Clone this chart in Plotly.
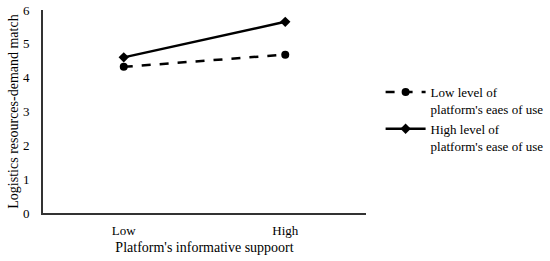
import plotly.graph_objects as go

categories = ["Low", "High"]
low_ease = [4.32, 4.68]
high_ease = [4.6, 5.65]
names = ["Low level of<br>platform's eaes of use", "High level of<br>platform's ease of use"]
y_ticks = [0, 1, 2, 3, 4, 5, 6]

font_family = "Liberation Serif, Times New Roman, serif"

fig = go.Figure()
fig.add_trace(
    go.Scatter(
        x=categories,
        y=low_ease,
        name=names[0],
        mode="lines+markers",
        line=dict(color="black", width=2.5, dash="dash"),
        marker=dict(symbol="circle", size=8, color="black"),
    )
)
fig.add_trace(
    go.Scatter(
        x=categories,
        y=high_ease,
        name=names[1],
        mode="lines+markers",
        line=dict(color="black", width=2.5),
        marker=dict(symbol="diamond", size=8, color="black"),
    )
)

fig.update_layout(
    width=550,
    height=261,
    template="plotly_white",
    paper_bgcolor="white",
    plot_bgcolor="white",
    font=dict(family=font_family, size=13, color="black"),
    margin=dict(l=43, r=184, t=10, b=48),
    showlegend=True,
    legend=dict(
        xref="container",
        yref="container",
        x=0.692,
        y=0.705,
        xanchor="left",
        yanchor="top",
        valign="top",
        itemwidth=40,
        tracegroupgap=4,
        font=dict(family=font_family, size=13, color="black"),
        bgcolor="rgba(0,0,0,0)",
    ),
    xaxis=dict(
        type="category",
        range=[-0.5, 1.5],
        automargin=False,
        showgrid=False,
        zeroline=False,
        showline=True,
        linecolor="#333",
        linewidth=2,
        ticks="",
        ticklabelstandoff=4,
        title=dict(text="Platform's informative suppoort", standoff=6,
                   font=dict(family=font_family, size=14, color="black")),
    ),
    yaxis=dict(
        range=[0, 6],
        tickvals=y_ticks,
        automargin=False,
        showgrid=False,
        zeroline=False,
        showline=True,
        linecolor="#333",
        linewidth=2,
        ticks="",
        ticklabelstandoff=9,
        title=dict(text="Logistics resources-demand match", standoff=1,
                   font=dict(family=font_family, size=14, color="black")),
    ),
)

# the page body has a default 8px margin; drop it so the figure fills the window
fig.write_html(
    "out.html",
    config={"displayModeBar": False},
    post_script="document.body.style.margin = '0';",
)
